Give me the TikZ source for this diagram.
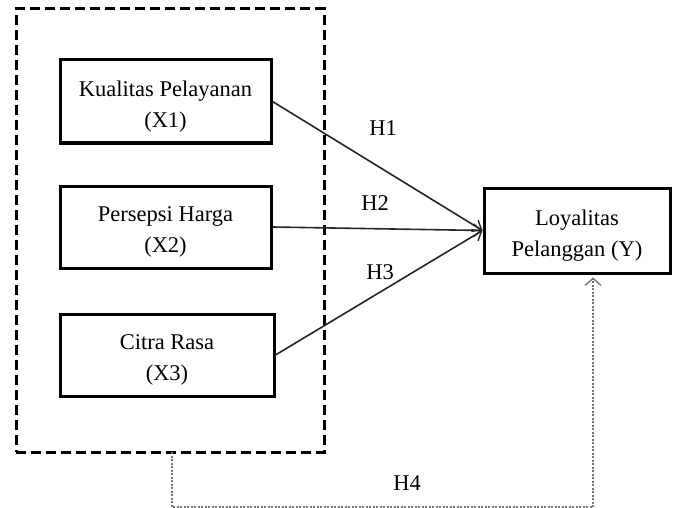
\documentclass[tikz,border=0pt]{standalone}
\usepackage{fontspec}
\setmainfont{Liberation Serif}
\usepackage{tikz}
\usetikzlibrary{arrows.meta}
\newcommand{\lowtxt}{\rule{0pt}{25pt}}

\begin{document}
\begin{tikzpicture}[x=1pt, y=-1pt, every node/.style={font=\fontsize{22.5}{31}\selectfont}]
      \begin{scope}[>=latex]
      \end{scope}
      \useasboundingbox (0,0) rectangle (685,508);
      \tikzset{varbox/.style={draw,line width=3pt,shape=rectangle,align=center,inner sep=0pt}}
      \tikzset{hyp/.style={-{Straight Barb[length=8pt,width=13pt,line width=1.4pt]},line width=1.6pt,black!85}}
      \node at (170,230.5)[draw,line width=3pt,dash pattern=on 10pt off 5pt,minimum width=308,minimum height=443] (grp){};
      \node at (165.5,101.5)[varbox,minimum width=211,minimum height=83] (x1){\lowtxt Kualitas Pelayanan\\(X1)};
      \node at (165.5,227)[varbox,minimum width=211,minimum height=82] (x2){\lowtxt Persepsi Harga\\(X2)};
      \node at (167,355)[varbox,minimum width=214,minimum height=82] (x3){\lowtxt Citra Rasa\\(X3)};
      \node at (577,230.5)[varbox,minimum width=186,minimum height=85] (ly){\lowtxt Loyalitas\\Pelanggan (Y)};
      \node at (383,128) (h1){H1};
      \node at (375,203) (h2){H2};
      \node at (380,272) (h3){H3};
      \node at (407,483) (h4){H4};
      \coordinate (h4s) at (172,452);
      \coordinate (h4c) at (593,507);
      \draw[hyp] (x1.east) -- (ly.west);
      \draw[hyp] (x2.east) -- (ly.west);
      \draw[hyp] (x3.east) -- (ly.west);
      \draw[-{Straight Barb[length=7pt,width=16pt,line width=1.3pt]},dash pattern=on 2pt off 1.5pt,line width=1.6pt,black!55,shorten >=3pt] (h4s) -- (h4s |- h4c) -- (h4c) -- (ly.south -| h4c);
      \end{tikzpicture}
\end{document}
